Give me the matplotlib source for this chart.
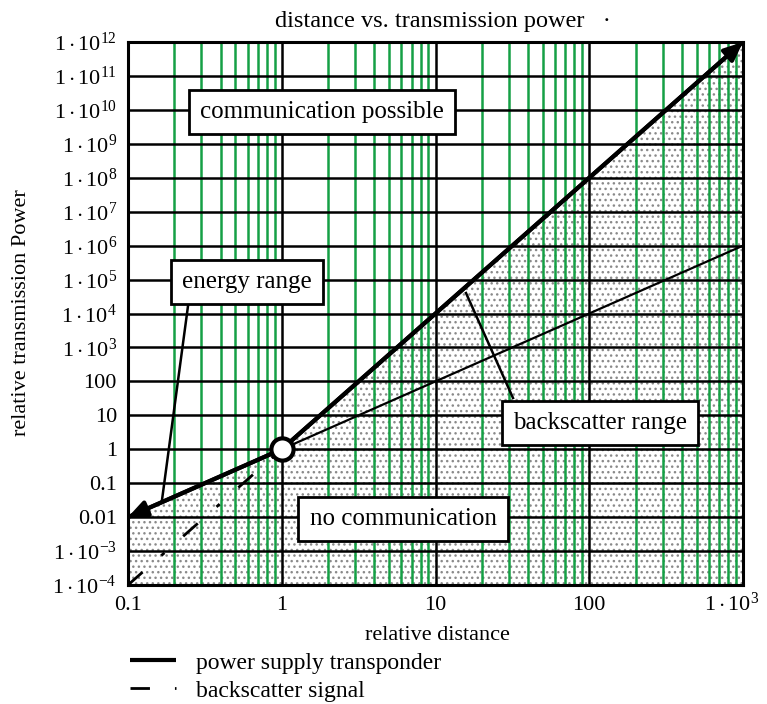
import matplotlib
matplotlib.use("Agg")
import matplotlib.pyplot as plt
from matplotlib.ticker import FixedLocator, NullFormatter, FixedFormatter
from matplotlib.transforms import ScaledTranslation

# ---- data ----
distance = [0.1, 1, 1000]
power_supply = [0.01, 1, 1e12]
backscatter = [1e-4, 1, 1e6]

x_ticks = [0.1, 1, 10, 100, 1000]
x_tick_labels = ["0.1", "1", "10", "100", r"$1\cdot10^{3}$"]
y_ticks = [1e-4, 1e-3, 1e-2, 1e-1, 1, 10, 100, 1e3, 1e4, 1e5, 1e6, 1e7, 1e8,
           1e9, 1e10, 1e11, 1e12]
y_tick_labels = [r"$1\cdot10^{-4}$", r"$1\cdot10^{-3}$", "0.01", "0.1", "1", "10",
                 "100", r"$1\cdot10^{3}$", r"$1\cdot10^{4}$", r"$1\cdot10^{5}$",
                 r"$1\cdot10^{6}$", r"$1\cdot10^{7}$", r"$1\cdot10^{8}$",
                 r"$1\cdot10^{9}$", r"$1\cdot10^{10}$", r"$1\cdot10^{11}$",
                 r"$1\cdot10^{12}$"]

plt.rcParams['font.family'] = ['Liberation Serif', 'DejaVu Serif']
plt.rcParams['mathtext.fontset'] = 'custom'
plt.rcParams['mathtext.rm'] = 'Liberation Serif'
plt.rcParams['mathtext.it'] = 'Liberation Serif:italic'
plt.rcParams['hatch.color'] = '#6e6e6e'
plt.rcParams['hatch.linewidth'] = 1.0

fig = plt.figure(figsize=(7.67, 7.04), dpi=100)
ax = fig.add_axes([128/767, 1-585/704, (743-128)/767, (585-42)/704])
ax.set_xscale('log')
ax.set_yscale('log')
ax.set_xlim(0.1, 1000)
ax.set_ylim(1e-4, 1e12)

minor_x = [m * 10.0**e for e in range(-1, 3) for m in range(2, 10)]
ax.xaxis.set_major_locator(FixedLocator(x_ticks))
ax.xaxis.set_major_formatter(FixedFormatter(x_tick_labels[:-1] + ['']))
ax.xaxis.set_minor_locator(FixedLocator(minor_x))
ax.xaxis.set_minor_formatter(NullFormatter())
ax.yaxis.set_major_locator(FixedLocator(y_ticks))
ax.yaxis.set_major_formatter(FixedFormatter(y_tick_labels))
ax.yaxis.set_minor_locator(FixedLocator([]))
ax.set_axisbelow(False)
ax.grid(True, which='major', axis='both', color='black', lw=1.8, zorder=2)
ax.grid(True, which='minor', axis='x', color='#15a045', lw=1.8, zorder=1.9)
ax.tick_params(which='both', length=0, labelsize=16, pad=8)
for s in ax.spines.values():
    s.set_linewidth(2.2)
    s.set_zorder(6)

# last x tick label, right-aligned so it stays inside the figure
ax.text(x_ticks[-1], 0, x_tick_labels[-1], fontsize=16, ha='right', va='top',
        transform=ax.get_xaxis_transform() + ScaledTranslation(16/100, -8/100, fig.dpi_scale_trans))

# hatched region under the power supply curve
ax.fill_between(distance, power_supply, 1e-4, facecolor='white', hatch='...',
                edgecolor='#8a8a8a', linewidth=0, zorder=1)

# power supply line
l_power, = ax.plot(distance, power_supply, color='black', lw=3, zorder=4,
                   solid_capstyle='butt')
for i_from, i_to in [(1, 0), (1, 2)]:
    ax.annotate('', xy=(distance[i_to], power_supply[i_to]),
                xytext=(distance[i_from], power_supply[i_from]),
                arrowprops=dict(arrowstyle='-|>,head_length=0.8,head_width=0.35',
                                color='black', lw=3, shrinkA=0, shrinkB=0,
                                mutation_scale=14),
                zorder=4)

# backscatter signal
l_back, = ax.plot(distance[:2], backscatter[:2], color='black', lw=2,
                  linestyle=(0, (7, 9, 1.5, 9)), zorder=3)
ax.plot(distance[1:], backscatter[1:], color='black', lw=1.6, zorder=3)

# operating point
ax.plot([distance[1]], [power_supply[1]], marker='o', ms=16, mfc='white',
        mec='black', mew=3, zorder=7)

box = dict(boxstyle='square,pad=0.45', facecolor='white', edgecolor='black', lw=2)
tfs = 18
ax.text((322-128)/615, (585-112)/543, 'communication possible', transform=ax.transAxes,
        ha='center', va='center', fontsize=tfs, bbox=box, zorder=8)
ax.text((247-128)/615, (585-282)/543, 'energy range', transform=ax.transAxes,
        ha='center', va='center', fontsize=tfs, bbox=box, zorder=8)
ax.text((600-128)/615, (585-423)/543, 'backscatter range', transform=ax.transAxes,
        ha='center', va='center', fontsize=tfs, bbox=box, zorder=8)
ax.text((403-128)/615, (585-519)/543, 'no communication', transform=ax.transAxes,
        ha='center', va='center', fontsize=tfs, bbox=box, zorder=8)

# leader lines
ax.plot([(188-128)/615, (162-128)/615], [(585-306)/543, (585-500)/543],
        transform=ax.transAxes, color='black', lw=1.8, zorder=5)
ax.plot([(513-128)/615, (466-128)/615], [(585-398)/543, (585-293)/543],
        transform=ax.transAxes, color='black', lw=1.8, zorder=5)

fig.text(443/767, 1-22/704, 'distance vs. transmission power   \u00b7', ha='center',
         va='center', fontsize=17.5)
fig.text(437/767, 1-636/704, 'relative distance', ha='center', va='center', fontsize=16)
fig.text(22/767, 1-313/704, 'relative transmission Power', rotation=90, ha='center',
         va='center', fontsize=16)

leg = fig.legend([l_power, l_back], ['power supply transponder', 'backscatter signal'],
                 loc='upper left', bbox_to_anchor=(130/767, 1-652/704), frameon=False,
                 fontsize=17, handlelength=1.95, handletextpad=0.85, labelspacing=0.28,
                 borderaxespad=0, borderpad=0)

fig.savefig('out.png', dpi=100)
